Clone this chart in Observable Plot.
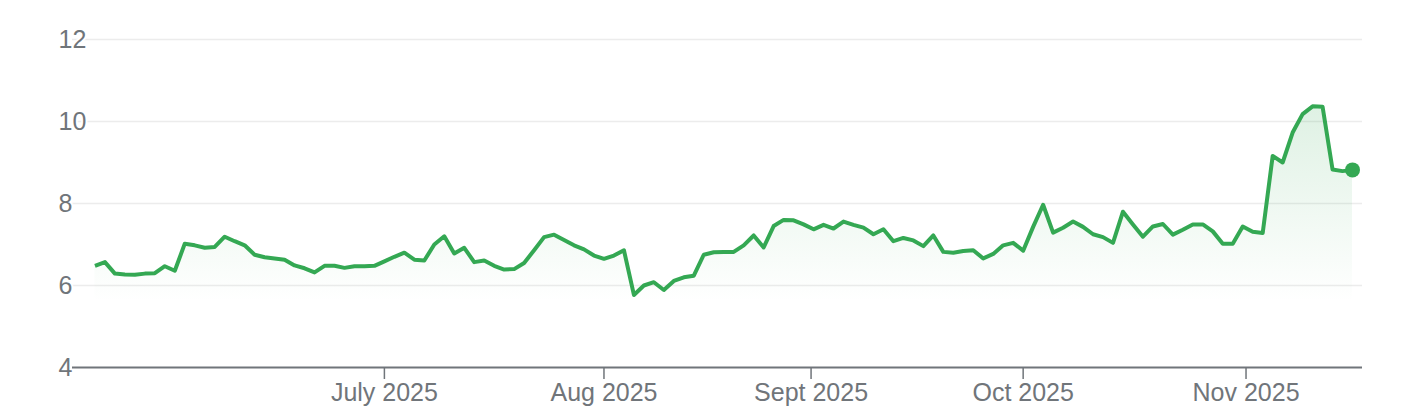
<!DOCTYPE html>
<html><head><meta charset="utf-8">
<script src="https://cdn.jsdelivr.net/npm/d3@7"></script>
<script src="https://cdn.jsdelivr.net/npm/@observablehq/plot@0.6"></script>
<style>body{margin:0;background:#fff}</style>
</head><body><div id="chart"></div>
<script>
// Daily values (trading-day index 0..126)
const values = [
  6.48, 6.57, 6.29, 6.27, 6.26, 6.29, 6.30, 6.47, 6.36, 7.02,
  6.98, 6.92, 6.94, 7.19, 7.08, 6.98, 6.75, 6.69, 6.66, 6.63,
  6.49, 6.42, 6.32, 6.48, 6.48, 6.43, 6.47, 6.47, 6.48, 6.59,
  6.70, 6.80, 6.63, 6.61, 7.00, 7.20, 6.78, 6.92, 6.57, 6.61,
  6.48, 6.39, 6.40, 6.55, 6.86, 7.18, 7.24, 7.11, 6.98, 6.88,
  6.73, 6.65, 6.73, 6.86, 5.77, 6.00, 6.08, 5.89, 6.11, 6.20,
  6.24, 6.75, 6.81, 6.82, 6.82, 6.98, 7.22, 6.93, 7.45, 7.60,
  7.59, 7.49, 7.37, 7.48, 7.39, 7.56, 7.48, 7.41, 7.25, 7.37,
  7.08, 7.16, 7.10, 6.96, 7.22, 6.82, 6.80, 6.84, 6.86, 6.66,
  6.77, 6.98, 7.04, 6.85, 7.43, 7.97, 7.29, 7.41, 7.56, 7.43,
  7.25, 7.18, 7.04, 7.80, 7.49, 7.19, 7.44, 7.50, 7.24, 7.36,
  7.49, 7.49, 7.32, 7.02, 7.02, 7.44, 7.31, 7.28, 9.16, 9.00,
  9.73, 10.18, 10.37, 10.36, 8.83, 8.79, 8.82
];
const gridValues = [6, 8, 10, 12];
const yLabelValues = [4, 6, 8, 10, 12];
const xTickPositions = [29, 51, 71.75, 93, 115.33];
const xTickLabels = ["July 2025", "Aug 2025", "Sept 2025", "Oct 2025", "Nov 2025"];

const rows = values.map((v, i) => ({i, v}));
const last = rows[rows.length - 1];
const green = "#34a853";
const grey = "#70757a";

const plot = Plot.plot({
  width: 1406,
  height: 412,
  marginTop: 39,
  marginBottom: 45,
  marginLeft: 72,
  marginRight: 44,
  style: {fontFamily: "'Liberation Sans', Arial, sans-serif", background: "white", overflow: "visible"},
  x: {type: "linear", domain: [-2.25, 127], axis: null},
  y: {domain: [4, 12], axis: null},
  marks: [
    Plot.ruleY(gridValues, {stroke: "#ececec", strokeWidth: 1.5}),
    Plot.areaY(rows, {x: "i", y1: 4, y2: "v", fill: "url(#areaGrad)"}),
    Plot.ruleY([4], {stroke: grey, strokeWidth: 2}),
    Plot.text(yLabelValues, {
      y: d => d, frameAnchor: "left", textAnchor: "start", dx: -14,
      text: d => String(d), fontSize: 25, fill: grey,
      stroke: d => d === 4 ? "none" : "white", strokeWidth: 4, paintOrder: "stroke"
    }),
    Plot.axisX({
      ticks: xTickPositions,
      tickFormat: d => xTickLabels[xTickPositions.indexOf(d)],
      tickSize: 12, tickPadding: 4, fontSize: 25, color: grey, strokeWidth: 1.5, label: null
    }),
    Plot.line(rows, {x: "i", y: "v", stroke: green, strokeWidth: 4, strokeLinejoin: "round", strokeLinecap: "butt"}),
    Plot.dot([last], {x: "i", y: "v", r: 7.5, fill: green})
  ]
});

const ns = "http://www.w3.org/2000/svg";
const defs = document.createElementNS(ns, "defs");
defs.innerHTML = `<linearGradient id="areaGrad" x1="0" y1="0" x2="0" y2="1">
  <stop offset="0" stop-color="${green}" stop-opacity="0.16"/>
  <stop offset="0.75" stop-color="${green}" stop-opacity="0"/>
</linearGradient>`;
plot.insertBefore(defs, plot.firstChild);
document.getElementById("chart").appendChild(plot);
</script>
</body></html>
